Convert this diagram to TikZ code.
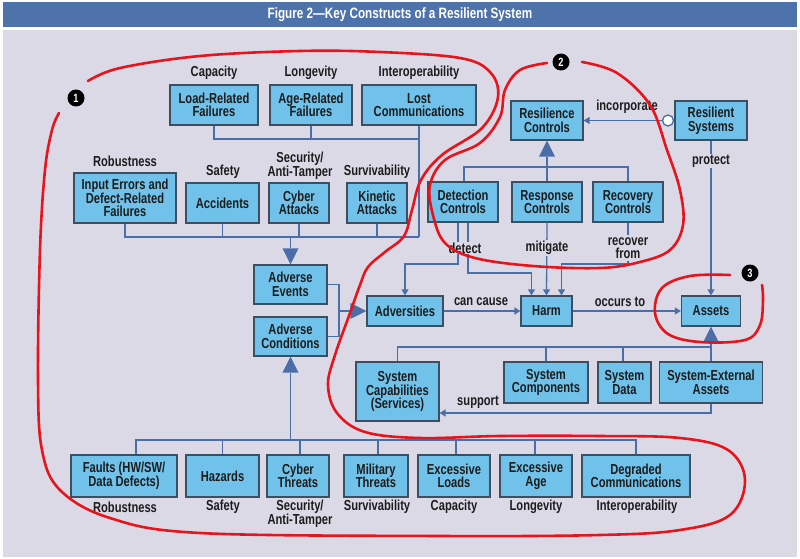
\documentclass[tikz,border=0pt]{standalone}
\usepackage{fontspec}
\setmainfont{Liberation Sans}[FakeStretch=0.77]
\newfontfamily\titlefont{Liberation Sans}[FakeStretch=0.78]
\usetikzlibrary{arrows.meta,calc}
\definecolor{bg}{HTML}{DCD9E6}
\definecolor{bar}{HTML}{4E72AA}
\definecolor{boxfill}{HTML}{70C2EA}
\definecolor{boxline}{HTML}{3C4F60}
\definecolor{conn}{HTML}{4A6FA8}
\definecolor{txt}{HTML}{1C1C1C}
\definecolor{loopred}{HTML}{E8141C}
\begin{document}
\begin{tikzpicture}[x=1pt,y=-1pt,
  font=\bfseries\fontsize{14.5}{13.6}\selectfont, text=txt,
  box/.style={draw=boxline, fill=boxfill, line width=1.2pt, align=center, inner sep=0pt, text=txt},
  lbl/.style={align=center, inner sep=1pt, text=txt},
  cut/.style={lbl, fill=bg},
  wire/.style={draw=conn, line width=1.3pt},
  arr/.style={wire, -{Triangle[length=6pt,width=7pt]}},
  redloop/.style={draw=loopred, line width=2.6pt, line cap=round},
  badge/.style={circle, fill=black, text=white, minimum size=17pt, inner sep=0pt, font=\bfseries\fontsize{12}{12}\selectfont}]
\useasboundingbox (0,0) rectangle (800,559);
\fill[white] (0,0) rectangle (800,559);
\fill[bar] (3,2) rectangle (797,27);
\fill[bg] (3,30) rectangle (797,557);
\node[text=white, font=\titlefont\bfseries\fontsize{15}{15}\selectfont] (title) at (400,15) {Figure 2—Key Constructs of a Resilient System};

% top row
\node[box, minimum width=88pt, minimum height=40pt] (load) at (214,105) {Load-Related\\Failures};
\node[box, minimum width=82pt, minimum height=40pt] (age) at (311,105) {Age-Related\\Failures};
\node[box, minimum width=114pt, minimum height=40pt] (lost) at (419,105) {Lost\\Communications};
\node[lbl] (capT) at (214,73) {Capacity};
\node[lbl] (lonT) at (311,73) {Longevity};
\node[lbl] (intT) at (419,73) {Interoperability};

% second row
\node[box, minimum width=102pt, minimum height=50pt] (input) at (125,198) {Input Errors and\\Defect-Related\\Failures};
\node[box, minimum width=73pt, minimum height=40pt] (accid) at (222.5,203) {Accidents};
\node[box, minimum width=60pt, minimum height=40pt] (cyberA) at (299,203) {Cyber\\Attacks};
\node[box, minimum width=60pt, minimum height=40pt] (kinetic) at (377,203) {Kinetic\\Attacks};
\node[lbl] (robT) at (125,161) {Robustness};
\node[lbl] (safT) at (223,172) {Safety};
\node[lbl] (secT) at (300,166) {Security/\\Anti-Tamper};
\node[lbl] (surT) at (377,172) {Survivability};

% adverse
\node[box, minimum width=73pt, minimum height=39pt] (advEv) at (290.5,284.5) {Adverse\\Events};
\node[box, minimum width=73pt, minimum height=39pt] (advCo) at (290.5,336.5) {Adverse\\Conditions};
\node[box, minimum width=76pt, minimum height=30pt] (advers) at (405,311) {Adversities};
\node[box, minimum width=51pt, minimum height=30pt] (harm) at (546.5,311) {Harm};
\node[box, minimum width=59pt, minimum height=30pt] (assets) at (711,311) {Assets};

% controls
\node[box, minimum width=70pt, minimum height=40pt] (detC) at (463,202) {Detection\\Controls};
\node[box, minimum width=70pt, minimum height=40pt] (respC) at (547,202) {Response\\Controls};
\node[box, minimum width=70pt, minimum height=40pt] (recC) at (628,202) {Recovery\\Controls};
\node[box, minimum width=72pt, minimum height=39pt] (resC) at (547,120.5) {Resilience\\Controls};
\node[box, minimum width=72pt, minimum height=39pt] (resS) at (711,120.5) {Resilient\\Systems};

% system
\node[box, minimum width=83pt, minimum height=59pt] (sysCap) at (397.5,391.5) {System\\Capabilities\\(Services)};
\node[box, minimum width=84pt, minimum height=41pt] (sysComp) at (546,382.5) {System\\Components};
\node[box, minimum width=53pt, minimum height=41pt] (sysData) at (624.5,382.5) {System\\Data};
\node[box, minimum width=103pt, minimum height=41pt] (sysExt) at (711,382.5) {System-External\\Assets};

% bottom row
\node[box, minimum width=106pt, minimum height=42pt] (faults) at (124,476) {Faults (HW/SW/\\Data Defects)};
\node[box, minimum width=73pt, minimum height=42pt] (hazards) at (222.5,476) {Hazards};
\node[box, minimum width=62pt, minimum height=42pt] (cyberT) at (298,476) {Cyber\\Threats};
\node[box, minimum width=64pt, minimum height=42pt] (military) at (376,476) {Military\\Threats};
\node[box, minimum width=72pt, minimum height=42pt] (exLoads) at (454,476) {Excessive\\Loads};
\node[box, minimum width=72pt, minimum height=42pt] (exAge) at (536,476) {Excessive\\Age};
\node[box, minimum width=108pt, minimum height=42pt] (degr) at (636,476) {Degraded\\Communications};
\node[lbl] (robB) at (125,507) {Robustness};
\node[lbl] (safB) at (223,507) {Safety};
\node[lbl] (secB) at (300,514) {Security/\\Anti-Tamper};
\node[lbl] (surB) at (377,507) {Survivability};
\node[lbl] (capB) at (454,507) {Capacity};
\node[lbl] (lonB) at (536,507) {Longevity};
\node[lbl] (intB) at (637,507) {Interoperability};

% bus coordinates
\coordinate (b1) at (0,139);
\coordinate (b2) at (0,237);
\coordinate (b3) at (0,440);
\coordinate (b4) at (0,167);
\coordinate (b5) at (0,264);
\coordinate (b6) at (0,273);
\coordinate (b7) at (0,347);
\coordinate (b8) at (0,413);
\coordinate (jx) at (339,311);

% top failures tree
\draw[wire] (load.south) |- (lost.south |- b1);
\draw[wire] (age.south) -- (age.south |- b1);
\draw[wire] (lost.south) -- (lost.south |- b2);
\draw[wire] (input.south) |- (lost.south |- b2);
\draw[wire] (accid.south) -- (accid.south |- b2);
\draw[wire] (cyberA.south) -- (cyberA.south |- b2);
\draw[wire] (kinetic.south) -- (kinetic.south |- b2);
\draw[wire] (advEv.north |- b2) -- ($(advEv.north)+(0,-16)$);
\fill[conn] (advEv.north) -- ++(-8,-16) -- ++(16,0) -- cycle;

% adverse -> adversities
\draw[wire] (advEv.east) -| (jx) |- (advCo.east);
\draw[wire] (jx) -- ($(advers.west)+(-16,0)$);
\fill[conn] (advers.west) -- ++(-16,-8) -- ++(0,16) -- cycle;

% bottom tree
\draw[wire] ([xshift=12pt]faults.north) |- (degr.north |- b3) -- (degr.north);
\draw[wire] (hazards.north) -- (hazards.north |- b3);
\draw[wire] ([xshift=2pt]cyberT.north) -- ([xshift=2pt]cyberT.north |- b3);
\draw[wire] ([xshift=2pt]military.north) -- ([xshift=2pt]military.north |- b3);
\draw[wire] ([xshift=2pt]exLoads.north) -- ([xshift=2pt]exLoads.north |- b3);
\draw[wire] ([xshift=-1pt]exAge.north) -- ([xshift=-1pt]exAge.north |- b3);
\draw[wire] (advCo.south |- b3) -- ($(advCo.south)+(0,16)$);
\fill[conn] (advCo.south) -- ++(-8,16) -- ++(16,0) -- cycle;

% controls tree
\fill[conn] (resC.south) -- ++(-8,16) -- ++(16,0) -- cycle;
\draw[wire] ($(resC.south)+(0,16)$) -- (resC.south |- b4);
\draw[wire] ([xshift=1pt]detC.north) |- (recC.north |- b4) -- (recC.north);
\draw[wire] (respC.north) -- (respC.north |- b4);

% incorporate
\node[circle, draw=conn, fill=white, line width=1.3pt, minimum size=11pt, inner sep=0pt] (inc) at (668,120.5) {};
\draw[arr] (inc.west) -- (resC.east);
\node[lbl] (incT) at (627,107) {incorporate};

% protect
\draw[arr] (resS.south) -- (assets.north);
\node[cut] (protT) at (711,161) {protect};

% detect / mitigate / recover
\draw[arr] ([xshift=-5pt]detC.south) |- (advers.north |- b5) -- (advers.north);
\draw[arr] ([xshift=5pt]detC.south) |- ([xshift=-15pt]harm.north |- b6) -- ([xshift=-15pt]harm.north);
\draw[arr] (respC.south) -- (harm.north);
\draw[arr] (recC.south) |- ([xshift=15pt]harm.north |- b5) -- ([xshift=15pt]harm.north);
\node[cut, inner xsep=2pt] (detT) at (465,248) {detect};
\node[cut] (mitT) at (547,248) {mitigate};
\node[cut, inner ysep=2pt] (recT) at (628,248) {recover\\from};

% harm chain
\draw[arr] (advers.east) -- (harm.west);
\node[lbl] (ccT) at (481,302) {can cause};
\draw[arr] (harm.east) -- (assets.west);
\node[lbl] (occT) at (620,302) {occurs to};

% assets tree
\fill[conn] (assets.south) -- ++(-8,16) -- ++(16,0) -- cycle;
\draw[wire] ($(assets.south)+(0,16)$) -- (assets.south |- b7);
\draw[wire] (sysCap.north) |- (sysExt.north |- b7) -- (sysExt.north);
\draw[wire] (sysComp.north) -- (sysComp.north |- b7);
\draw[wire] ([xshift=-1.5pt]sysData.north) -- ([xshift=-1.5pt]sysData.north |- b7);
\draw[arr] (sysExt.south) |- (sysCap.east |- b8);
\node[lbl] (supT) at (478,402) {support};

% red loops
\draw[redloop] plot[smooth, tension=0.6] coordinates {(88,81) (120,68) (200,56) (300,51) (380,52) (460,58) (490,72) (498,97) (482,128) (442,155) (421,180) (412,210) (404,236) (385,252) (368,267) (360,285) (350,313) (335,355) (328,385) (337,413) (365,432) (420,438) (500,436) (600,436) (680,438) (728,450) (745,480) (730,515) (680,530) (600,535) (440,536) (200,533) (110,518) (60,490) (42,450) (38,380) (40,250) (45,170) (52,130) (59,113)};
\draw[redloop] plot[smooth, tension=0.6] coordinates {(547,63) (520,70) (505,90) (500,117) (480,143) (445,160) (430,185) (433,215) (445,243) (475,258) (533,266) (600,268) (640,262) (670,250) (683,225) (680,190) (667,150) (650,105) (617,73) (582,62)};
\draw[redloop] plot[smooth, tension=0.6] coordinates {(730,275) (690,276) (662,288) (655,313) (668,334) (700,342) (745,340) (760,325) (763,300) (762,285)};

\node[badge] (n1) at (76,98) {1};
\node[badge] (n2) at (561,62) {2};
\node[badge] (n3) at (750,273) {3};
\end{tikzpicture}
\end{document}
